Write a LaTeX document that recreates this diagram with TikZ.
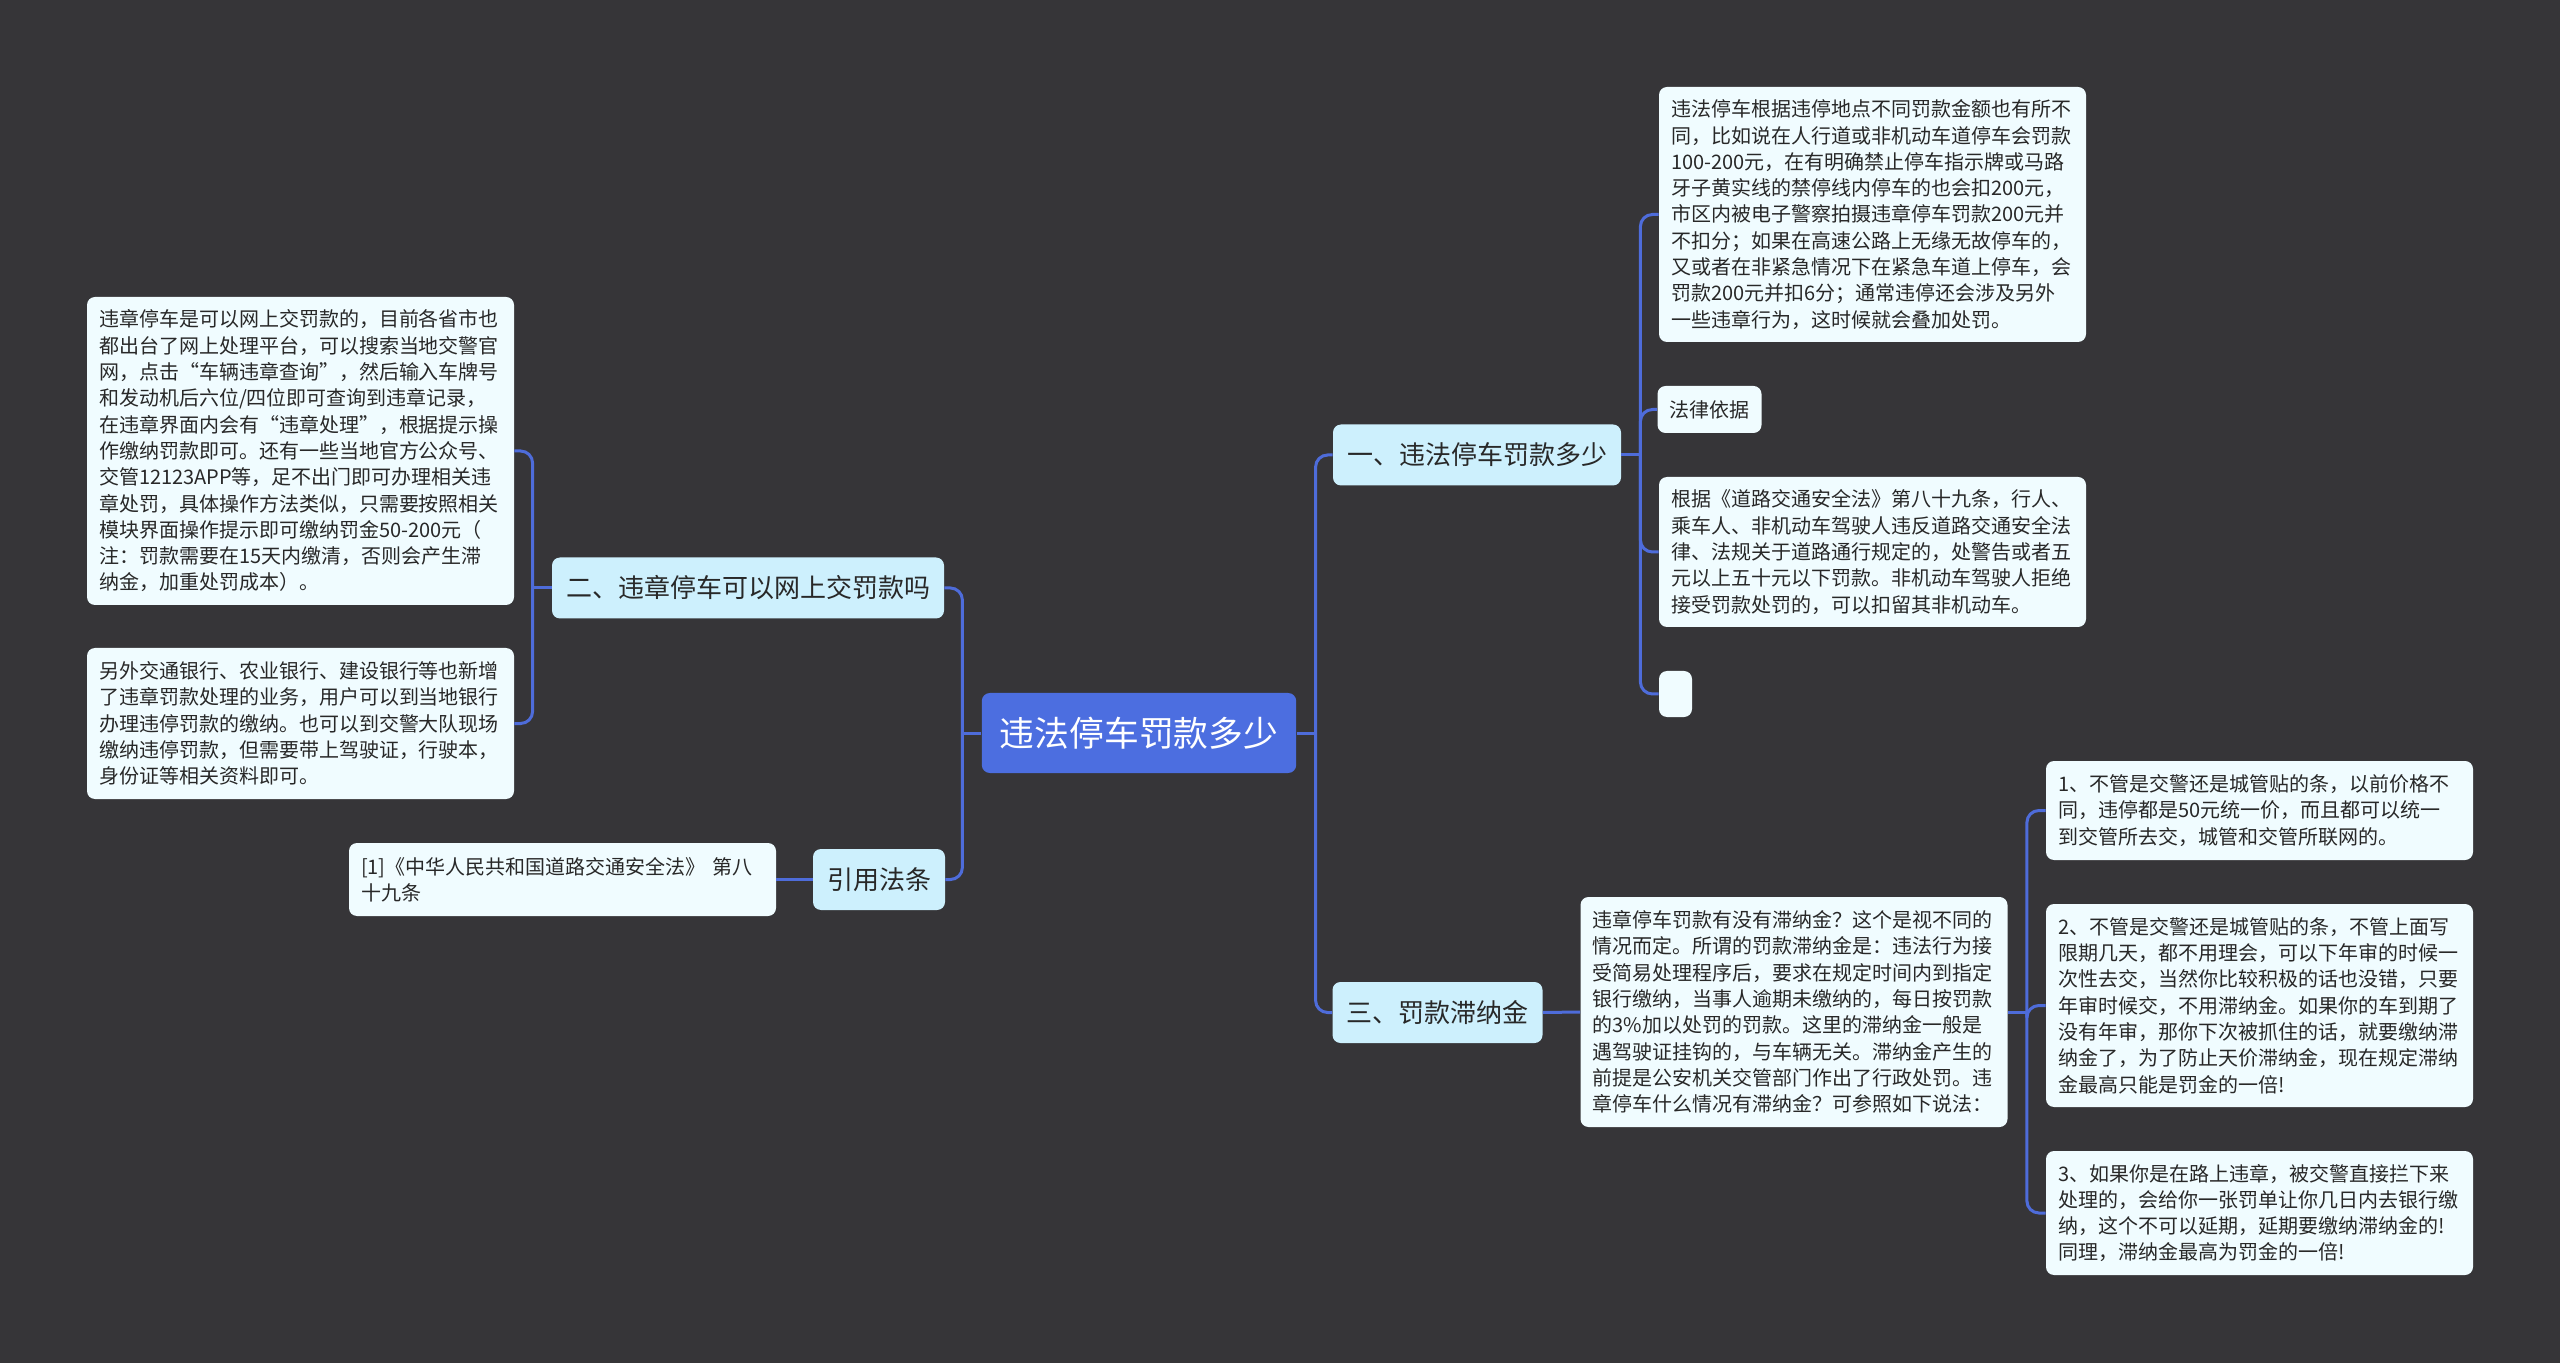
\documentclass[tikz,border=0pt]{standalone}
\usepackage{fontspec}
\setmainfont{Noto Sans CJK SC}
\usetikzlibrary{positioning}
\definecolor{bgcol}{RGB}{54,53,56}
\definecolor{rootfill}{RGB}{76,110,224}
\definecolor{branchfill}{RGB}{205,240,253}
\definecolor{leaffill}{RGB}{240,252,255}
\definecolor{linkcol}{RGB}{78,108,218}
\definecolor{inktext}{RGB}{40,40,40}

\begin{document}
\begin{tikzpicture}[x=0.5pt,y=-0.5pt,
    root/.style={fill=rootfill,text=white,rounded corners=4pt,
      font=\fontsize{17.4}{20}\selectfont,inner xsep=9pt,minimum height=40pt},
    branch/.style={fill=branchfill,text=inktext,rounded corners=4pt,
      font=\fontsize{13}{15}\selectfont,inner xsep=7pt,minimum height=30.5pt},
    leaf/.style={fill=leaffill,text=inktext,rounded corners=4pt,
      font=\fontsize{10}{13.15}\selectfont,align=left,inner xsep=6pt,inner ysep=3pt},
    wideleaf/.style={leaf,text width=201.5pt},
    link/.style={draw=linkcol,line width=1.5pt,rounded corners=6pt},
    elbow/.style={rounded corners=6pt,to path={|- (\tikztotarget)}}]

  \fill[bgcol] (0,0) rectangle (2560,1363);
  \useasboundingbox (0,0) rectangle (2560,1363);

  % centre and main branches
  \node[root] (root) at (1139,733) {违法停车罚款多少};
  \node[branch] (fine) at (1477,455) {一、违法停车罚款多少};
  \node[branch] (latefee) at (1437.5,1012.5) {三、罚款滞纳金};
  \node[branch] (online) at (748,588) {二、违章停车可以网上交罚款吗};
  \node[branch] (cite) at (879,879.5) {引用法条};

  % leaves of 一
  \node[wideleaf,minimum height=127.5pt] (fineA) at (1872.5,214.5) {违法停车根据违停地点不同罚款金额也有所不\\
    同，比如说在人行道或非机动车道停车会罚款\\
    100-200元，在有明确禁止停车指示牌或马路\\
    牙子黄实线的禁停线内停车的也会扣200元，\\
    市区内被电子警察拍摄违章停车罚款200元并\\
    不扣分；如果在高速公路上无缘无故停车的，\\
    又或者在非紧急情况下在紧急车道上停车，会\\
    罚款200元并扣6分；通常违停还会涉及另外\\
    一些违章行为，这时候就会叠加处罚。};
  \node[leaf,minimum height=23.5pt] (fineB) at (1709.5,409.5) {法律依据};
  \node[wideleaf,minimum height=75pt] (fineC) at (1872.5,552) {根据《道路交通安全法》第八十九条，行人、\\
    乘车人、非机动车驾驶人违反道路交通安全法\\
    律、法规关于道路通行规定的，处警告或者五\\
    元以上五十元以下罚款。非机动车驾驶人拒绝\\
    接受罚款处罚的，可以扣留其非机动车。};
  \node[leaf,minimum width=16.5pt,minimum height=23pt] (fineD) at (1675.5,694) {};

  % leaves of 二
  \node[wideleaf,minimum height=154pt] (onlineA) at (300.5,451) {违章停车是可以网上交罚款的，目前各省市也\\
    都出台了网上处理平台，可以搜索当地交警官\\
    网，点击“车辆违章查询”，然后输入车牌号\\
    和发动机后六位/四位即可查询到违章记录，\\
    在违章界面内会有“违章处理”，根据提示操\\
    作缴纳罚款即可。还有一些当地官方公众号、\\
    交管12123APP等，足不出门即可办理相关违\\
    章处罚，具体操作方法类似，只需要按照相关\\
    模块界面操作提示即可缴纳罚金50-200元（\\
    注：罚款需要在15天内缴清，否则会产生滞\\
    纳金，加重处罚成本）。};
  \node[wideleaf,minimum height=75.5pt] (onlineB) at (300.5,723.5) {另外交通银行、农业银行、建设银行等也新增\\
    了违章罚款处理的业务，用户可以到当地银行\\
    办理违停罚款的缴纳。也可以到交警大队现场\\
    缴纳违停罚款，但需要带上驾驶证，行驶本，\\
    身份证等相关资料即可。};

  % reference
  \node[wideleaf,minimum height=36.5pt] (citeA) at (562.5,879.5) {[1]《中华人民共和国道路交通安全法》 第八\\
    十九条};

  % leaves of 三
  \node[wideleaf,minimum height=115pt] (lateA) at (1794,1012) {违章停车罚款有没有滞纳金？这个是视不同的\\
    情况而定。所谓的罚款滞纳金是：违法行为接\\
    受简易处理程序后，要求在规定时间内到指定\\
    银行缴纳，当事人逾期未缴纳的，每日按罚款\\
    的3\%加以处罚的罚款。这里的滞纳金一般是\\
    遇驾驶证挂钩的，与车辆无关。滞纳金产生的\\
    前提是公安机关交管部门作出了行政处罚。违\\
    章停车什么情况有滞纳金？可参照如下说法：};
  \node[wideleaf,minimum height=49.5pt] (caseA) at (2259.5,810.5) {1、不管是交警还是城管贴的条，以前价格不\\
    同，违停都是50元统一价，而且都可以统一\\
    到交管所去交，城管和交管所联网的。};
  \node[wideleaf,minimum height=101.5pt] (caseB) at (2259.5,1005.5) {2、不管是交警还是城管贴的条，不管上面写\\
    限期几天，都不用理会，可以下年审的时候一\\
    次性去交，当然你比较积极的话也没错，只要\\
    年审时候交，不用滞纳金。如果你的车到期了\\
    没有年审，那你下次被抓住的话，就要缴纳滞\\
    纳金了，为了防止天价滞纳金，现在规定滞纳\\
    金最高只能是罚金的一倍!};
  \node[wideleaf,minimum height=62pt] (caseC) at (2259.5,1213) {3、如果你是在路上违章，被交警直接拦下来\\
    处理的，会给你一张罚单让你几日内去银行缴\\
    纳，这个不可以延期，延期要缴纳滞纳金的!\\
    同理，滞纳金最高为罚金的一倍!};

  % connectors
  \draw[link] (root.east) -- ++(19,0) coordinate (jr)
    (jr) edge[elbow] (fine.west)
    (jr) edge[elbow] (latefee.west);
  \draw[link] (root.west) -- ++(-19,0) coordinate (jl)
    (jl) edge[elbow] (online.east)
    (jl) edge[elbow] (cite.east);
  \draw[link] (fine.east) -- ++(19,0) coordinate (jf)
    (jf) edge[elbow] (fineA.west)
    (jf) edge[elbow] (fineB.west)
    (jf) edge[elbow] (fineC.west)
    (jf) edge[elbow] (fineD.west);
  \draw[link] (online.west) -- ++(-19,0) coordinate (jo)
    (jo) edge[elbow] (onlineA.east)
    (jo) edge[elbow] (onlineB.east);
  \draw[link] (cite.west) -- (citeA.east);
  \draw[link] (latefee.east) -- (lateA.west);
  \draw[link] (lateA.east) -- ++(19,0) coordinate (jc)
    (jc) edge[elbow] (caseA.west)
    (jc) edge[elbow] (caseB.west)
    (jc) edge[elbow] (caseC.west);
\end{tikzpicture}
\end{document}
